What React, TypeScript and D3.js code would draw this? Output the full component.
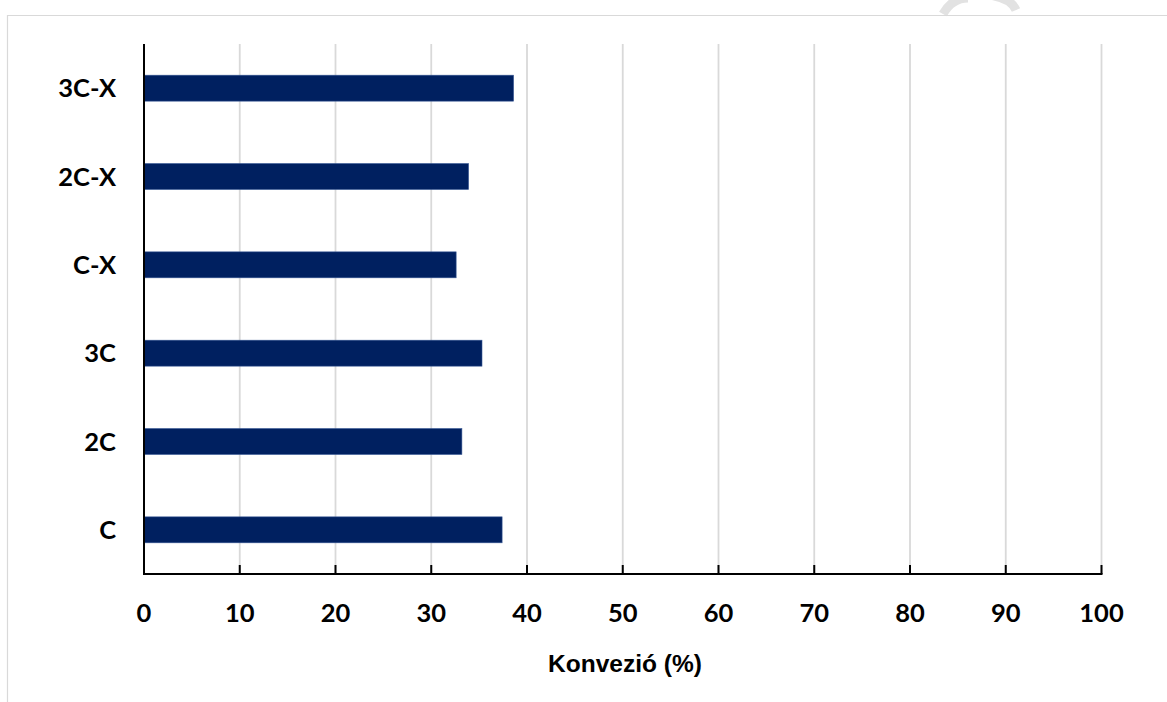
import React from "react";
import * as d3 from "d3";

// Conversion per catalyst sample (%)
const categories = ["3C-X", "2C-X", "C-X", "3C", "2C", "C"];
const conversion = [38.6, 33.9, 32.6, 35.3, 33.2, 37.4];
const xTicks = [0, 10, 20, 30, 40, 50, 60, 70, 80, 90, 100];
const xTitle = "Konvezió (%)";

const W = 1167;
const H = 702;
const margin = { left: 144, right: 65.5, top: 44, bottom: 128 };

export default function App() {
  const x = d3
    .scaleLinear()
    .domain([0, 100])
    .range([margin.left, W - margin.right]);
  const y = d3
    .scaleBand<string>()
    .domain(categories)
    .range([margin.top, H - margin.bottom])
    .paddingInner(0.706)
    .paddingOuter(0.353);

  const y0 = margin.top;
  const y1 = H - margin.bottom;
  const labelFont = "Lato, 'Noto Sans', sans-serif";

  return (
    <svg
      width={W}
      height={H}
      style={{ position: "absolute", left: 0, top: 0, background: "#fff" }}
    >
      {/* faint decoration above the frame */}
      <path
        d="M 943 14 Q 952 -2 968 -2 M 980 -6 Q 1010 -4 1016 10"
        fill="none"
        stroke="#e2e2e2"
        strokeWidth={9}
      />
      {/* outer frame */}
      <line x1={7} x2={W} y1={15.5} y2={15.5} stroke="#d9d9d9" strokeWidth={1.2} />
      <line x1={7.5} x2={7.5} y1={15} y2={H} stroke="#d9d9d9" strokeWidth={1.2} />

      {/* vertical gridlines */}
      {xTicks
        .filter((t) => t > 0)
        .map((t) => (
          <line
            key={"g" + t}
            x1={x(t)}
            x2={x(t)}
            y1={y0}
            y2={y1}
            stroke="#d9d9d9"
            strokeWidth={1.8}
          />
        ))}

      {/* bars */}
      {categories.map((c, i) => (
        <rect
          key={c}
          x={x(0)}
          y={y(c)}
          width={x(conversion[i]) - x(0)}
          height={y.bandwidth()}
          fill="#002060"
          stroke="#3a5a96"
          strokeWidth={0.6}
        />
      ))}

      {/* axes */}
      <line x1={x(0)} x2={x(0)} y1={y0} y2={y1 + 1} stroke="#000" strokeWidth={2} />
      <line x1={x(0) - 1} x2={x(100) + 1} y1={y1} y2={y1} stroke="#000" strokeWidth={2} />
      {xTicks.map((t) => (
        <line
          key={"t" + t}
          x1={x(t)}
          x2={x(t)}
          y1={y1}
          y2={y1 - 9}
          stroke="#000"
          strokeWidth={2}
        />
      ))}

      {/* tick labels */}
      {xTicks.map((t) => (
        <text
          key={"l" + t}
          x={x(t)}
          y={622}
          textAnchor="middle"
          fontFamily={labelFont}
          fontWeight={700}
          fontSize={25.5}
          fill="#000"
        >
          {t}
        </text>
      ))}

      {/* category labels */}
      {categories.map((c) => (
        <text
          key={"c" + c}
          x={116}
          y={(y(c) as number) + y.bandwidth() / 2 + 9}
          textAnchor="end"
          fontFamily={labelFont}
          fontWeight={700}
          fontSize={25.5}
          fill="#000"
        >
          {c}
        </text>
      ))}

      {/* axis title */}
      <text
        x={625}
        y={672}
        textAnchor="middle"
        fontFamily="Liberation Sans"
        fontWeight={700}
        fontSize={24.5}
        fill="#000"
      >
        {xTitle}
      </text>
    </svg>
  );
}
